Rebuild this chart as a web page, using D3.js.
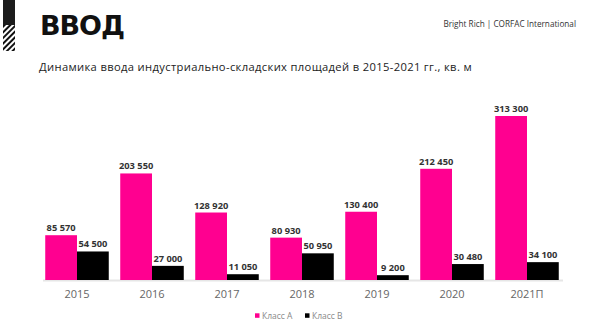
<!DOCTYPE html>
<html><head><meta charset="utf-8">
<script src="https://cdn.jsdelivr.net/npm/d3@7"></script>
<style>body{margin:0;background:#fff;}svg{display:block;}</style>
</head><body>
<svg id="c" width="591" height="329"></svg>
<script>
const categories = ["2015","2016","2017","2018","2019","2020","2021П"];
const classA = [85570, 203550, 128920, 80930, 130400, 212450, 313300];
const classB = [54500, 27000, 11050, 50950, 9200, 30480, 34100];
const seriesNames = ["Класс А", "Класс В"];
const colors = ["#FF0090", "#000000"];

const svg = d3.select("#c");
const FONT = "'Open Sans', 'Noto Sans', sans-serif";

function fitSpacing(sel, target){
  const n = sel.text().length;
  const w = sel.node().getComputedTextLength();
  sel.attr("letter-spacing", ((target - w) / n).toFixed(3));
}

// decoration
const defs = svg.append("defs");
const pat = defs.append("pattern").attr("id","hatch").attr("patternUnits","userSpaceOnUse")
  .attr("width",4).attr("height",4).attr("patternTransform","rotate(45)");
pat.append("rect").attr("width",4).attr("height",4).attr("fill","#fff");
pat.append("rect").attr("width",2).attr("height",4).attr("fill","#111");
svg.append("rect").attr("x",3).attr("y",0).attr("width",12).attr("height",25).attr("fill","#1c1c1c");
svg.append("rect").attr("x",3).attr("y",25).attr("width",12).attr("height",26).attr("fill","url(#hatch)");

const title = svg.append("text").attr("x",40).attr("y",35).text("ВВОД")
  .attr("font-family","'DejaVu Sans', sans-serif").attr("font-weight",800).attr("font-size",27).attr("fill","#111");
fitSpacing(title, 84);
svg.append("text").attr("x",576).attr("y",27).attr("text-anchor","end").text("Bright Rich | CORFAC International")
  .attr("font-family",FONT).attr("font-size",8.2).attr("fill","#333");
const sub = svg.append("text").attr("x",39).attr("y",70.5).text("Динамика ввода индустриально-складских площадей в 2015-2021 гг., кв. м")
  .attr("font-family",FONT).attr("font-size",11.2).attr("fill","#222");
fitSpacing(sub, 433);

const base = 280;
const x0 = d3.scaleBand().domain(categories).range([39.5,564.5]).paddingInner(0.153).paddingOuter(0.0765);
const x1 = d3.scaleBand().domain(seriesNames).range([0, x0.bandwidth()]);
const y = d3.scaleLinear().domain([0, 313300]).range([base, 116]);

const data = categories.map((c,i)=>({cat:c, vals:[classA[i], classB[i]]}));

// baseline
svg.append("line").attr("x1",43).attr("x2",563).attr("y1",base+0.5).attr("y2",base+0.5)
  .attr("stroke","#e6e6e6").attr("stroke-width",2);

const g = svg.selectAll("g.grp").data(data).join("g").attr("class","grp")
  .attr("transform",d=>`translate(${x0(d.cat)},0)`);
g.selectAll("rect").data(d=>d.vals.map((v,j)=>({v, s:seriesNames[j], j})))
  .join("rect").attr("x",d=>x1(d.s)).attr("width",x1.bandwidth())
  .attr("y",d=>y(d.v)).attr("height",d=>base - y(d.v)).attr("fill",d=>colors[d.j]);
const fmt = v => d3.format(",")(v).replace(/,/g," ");
g.selectAll("text").data(d=>d.vals.map((v,j)=>({v, s:seriesNames[j], j})))
  .join("text").attr("x",d=>x1(d.s)+x1.bandwidth()/2).attr("y",d=>y(d.v)-4)
  .attr("text-anchor","middle").attr("font-family",FONT).attr("font-weight",700)
  .attr("font-size",9.3).attr("fill","#333").text(d=>fmt(d.v));

// axis
const axis = svg.append("g").attr("transform",`translate(0,${base})`).call(d3.axisBottom(x0).tickSize(0).tickPadding(8));
axis.select(".domain").remove();
axis.selectAll("text").attr("font-family",FONT).attr("font-size",11).attr("fill","#666").attr("dy","0.95em");

// legend
const leg = svg.append("g");
const lx = [255, 305];
seriesNames.forEach((n,i)=>{
  leg.append("rect").attr("x",lx[i]).attr("y",313.3).attr("width",4.5).attr("height",4.5).attr("fill",colors[i]);
  leg.append("text").attr("x",lx[i]+7).attr("y",318.5).text(n).attr("font-family",FONT).attr("font-size",8.5).attr("fill","#888");
});
</script>
</body></html>
